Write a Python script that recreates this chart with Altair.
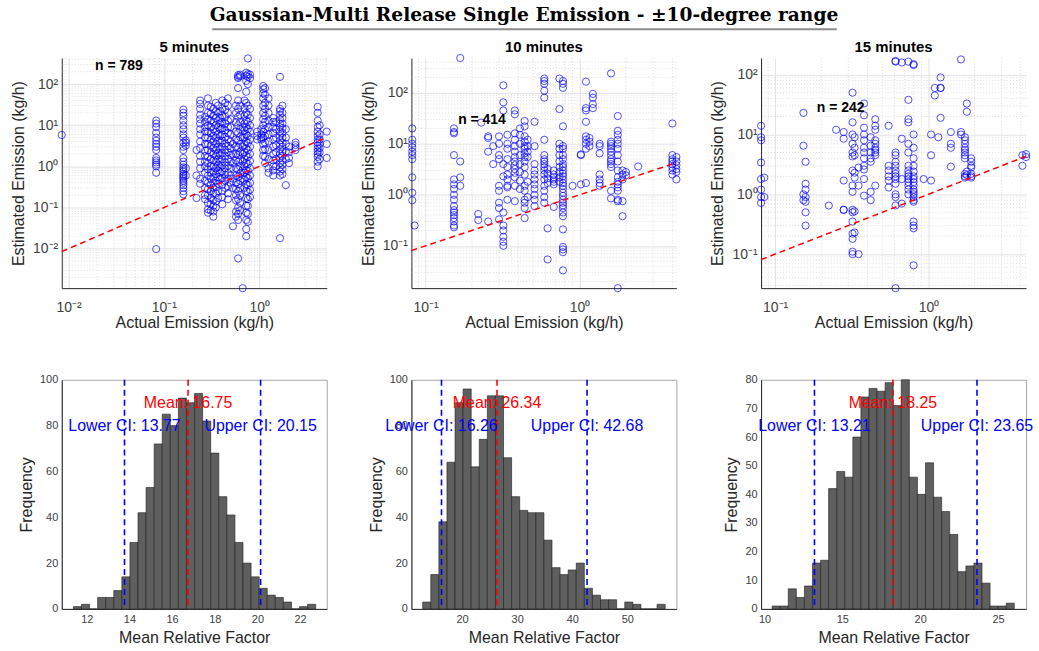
import math
import altair as alt
import pandas as pd

FONT = "Liberation Sans"
AX = "#262626"

# ---------------- scatter data (actual kg/h -> list of estimated kg/h) ----------------
p5_cols = [
    (0.0085, [5.8]),
    (0.083, [13, 11, 9, 6.5, 5, 4.2, 3.5, 3, 2.5, 1.6, 1.4, 1.25, 1.1, 1.0, 0.7, 0.0098]),
    (0.16, [24, 20, 17, 13, 10, 8, 6, 5, 3.8, 3, 2.5, 1.6, 1.3, 1.1, 0.95, 0.85, 0.75, 0.65, 0.6, 0.55, 0.5, 0.45, 0.4, 0.35, 0.3, 0.25, 0.21]),
    (0.17, [3.2, 3.8, 4.3, 0.9, 0.6]),
    (0.22, [2.5, 0.6, 0.17]),
    (0.24, [40, 33, 25, 18, 14, 11, 8, 6, 4, 2.8, 1.8, 1.3, 0.9, 0.5, 0.38]),
    (0.27, [16, 12, 9, 7, 5, 3.5, 2.4, 1.8, 1.3, 1.0, 0.7, 0.45, 0.3, 0.2, 0.16]),
    (0.29, [45, 30, 20, 14, 10, 7, 5, 3.5, 2.5, 1.7, 1.2, 0.85, 0.6, 0.4, 0.28, 0.2, 0.13, 0.09, 0.075]),
    (0.31, [28, 19, 13, 9, 6.5, 4.5, 3.2, 2.2, 1.5, 1.0, 0.7, 0.5, 0.35, 0.25, 0.17, 0.12, 0.085]),
    (0.33, [25, 17, 12, 8, 5.5, 4, 2.8, 2, 1.4, 1.0, 0.75, 0.55, 0.4, 0.3, 0.22, 0.15, 0.11, 0.08, 0.06]),
    (0.35, [35, 22, 15, 10, 7, 5, 3.5, 2.5, 1.8, 1.3, 0.9, 0.65, 0.45, 0.32, 0.22, 0.14, 0.1]),
    (0.37, [30, 20, 13, 9, 6, 4.2, 3, 2.1, 1.5, 1.1, 0.8, 0.55, 0.38, 0.25, 0.17]),
    (0.39, [22, 15, 11, 8, 5.5, 3.8, 2.6, 1.9, 1.3, 0.95, 0.7, 0.5]),
    (0.41, [40, 26, 17, 12, 8.5, 6, 4.2, 3, 2.1, 1.5, 1.05, 0.75, 0.52, 0.36, 0.25, 0.18, 0.12]),
    (0.44, [35, 24, 16, 11, 7.5, 5.2, 3.6, 2.5, 1.8, 1.25, 0.9, 0.62, 0.45, 0.3]),
    (0.47, [45, 30, 20, 13, 9, 6.5, 4.5, 3.1, 2.2, 1.5, 1.05, 0.7, 0.5, 0.33, 0.22, 0.16]),
    (0.50, [14, 9, 6, 4, 2.7, 1.9, 1.3, 0.9, 0.6, 0.4]),
    (0.53, [3.5, 2, 1.2, 0.5, 0.3, 0.035]),
    (0.57, [30, 20, 12, 7, 4.5, 3, 2, 1.4, 0.9, 0.6, 0.4, 0.28, 0.2, 0.15, 0.08, 0.06]),
    (0.60, [165, 150, 140, 80, 40, 25, 16, 10, 6.5, 4.3, 2.9, 1.9, 1.3, 0.85, 0.56, 0.37, 0.25, 0.16, 0.1, 0.07, 0.05, 0.0058]),
    (0.63, [170, 155, 30, 18, 12, 8, 5.2, 3.5, 2.3, 1.5, 1.0, 0.68, 0.45, 0.3, 0.2, 0.13, 0.085]),
    (0.67, [0.0011, 9, 5, 3, 2, 1.3, 0.8, 0.5]),
    (0.70, [40, 26, 17, 11, 7.5, 5, 3.3, 2.2, 1.5, 1.0, 0.7, 0.47, 0.3]),
    (0.73, [190, 160, 120, 65, 35, 20, 13, 9, 6, 4, 2.7, 1.8, 1.2, 0.8, 0.55, 0.37, 0.25, 0.17, 0.11, 0.075, 0.05, 0.03, 0.02]),
    (0.76, [420, 175, 150, 100, 30, 18, 12, 8, 5.5, 3.7, 2.5, 1.7, 1.15, 0.78, 0.52, 0.35, 0.24, 0.16, 0.11, 0.07, 0.045]),
    (0.80, [170, 140, 25, 15, 10, 7, 4.5, 3, 2, 1.35, 0.9, 0.6, 0.4, 0.27, 0.18]),
    (0.95, [7, 5.5, 4.5]),
    (1.05, [8, 6, 5, 4.5]),
    (1.10, [90, 75, 60, 45, 30, 20, 14, 10, 7, 5, 3.5, 2.5, 1.8]),
    (1.15, [80, 55, 35, 25, 17, 12, 8, 5.5, 3.8, 2.6, 1.7, 1.2]),
    (1.25, [45, 30, 20, 13, 9, 6, 4, 2.5, 1.5, 0.9, 0.7]),
    (1.40, [15, 12, 9, 6.5, 4.5, 3, 2, 1.4, 1.0, 0.8, 0.6]),
    (1.50, [12, 8, 5, 3.3, 2.2, 1.5, 1.0]),
    (1.65, [150, 25, 22, 18, 14, 11, 9, 7, 5.5, 4.3, 3.4, 2.6, 2, 1.6, 1.2, 0.95, 0.75, 0.6, 0.018]),
    (1.75, [30, 20, 15, 11, 8.5, 6.5, 5, 3.8, 3, 2.3, 1.8, 1.4, 1.1, 0.85, 0.65]),
    (1.90, [8, 5, 3.5, 2.3, 1.5, 0.35]),
    (2.05, [3, 2.2, 1.6, 1.2]),
    (2.40, [3.8, 3.3, 2.9, 2.5]),
    (4.10, [28, 20, 13, 9, 7, 5.5, 4.5, 3.8, 3.2, 2.7, 2.3, 2, 1.7, 1.3, 1.0]),
    (4.30, [10, 6, 4.5, 3.5, 2.8, 2.2, 1.5]),
    (5.10, [7, 3.5, 1.6]),
]

p10_cols = [
    (0.082, [20, 12, 10, 8.5, 7, 6, 5, 2.2, 1.1, 0.78]),
    (0.085, [0.25]),
    (0.153, [20, 17, 16, 6, 2, 1.6, 1.3, 1.0, 0.8, 0.6, 0.5, 0.45, 0.4, 0.35, 0.3, 0.25, 0.23]),
    (0.168, [480, 4.5, 2.2, 1.5]),
    (0.22, [0.42, 0.32]),
    (0.23, [26]),
    (0.255, [14, 13, 7, 0.3]),
    (0.275, [9, 4]),
    (0.30, [14, 10, 6, 5, 1.5, 1.2, 0.7, 0.55, 0.33]),
    (0.32, [140, 65, 45, 4, 2.3, 0.45, 0.25, 0.2, 0.15, 0.12, 0.1]),
    (0.34, [15, 10, 8, 5, 3.5, 2.5, 2, 1.5, 1.4, 0.8]),
    (0.38, [45, 38, 16, 12, 9, 7, 5.5, 4.5, 3.8, 3.2, 2.7, 2.2, 1.5, 0.75]),
    (0.41, [20, 15, 10, 6, 4, 2.8, 1.9, 1.3]),
    (0.44, [28, 22, 14, 11, 9, 8, 6.5, 5.5, 4.5, 3.5, 2.5, 1.5, 1.2, 0.8, 0.7, 0.55, 0.35]),
    (0.46, [12, 9, 7, 5.5, 1.8, 0.9]),
    (0.51, [27, 9, 4, 3, 2.5, 2, 1.6, 1.3, 1.0, 0.8, 0.6]),
    (0.59, [190, 170, 150, 110, 80, 12, 6, 5, 4.5, 4, 3.5, 3, 2.5, 2, 1.5, 1.2, 0.9, 0.7]),
    (0.62, [0.22, 0.054, 3.2, 2.6, 2.1, 1.7]),
    (0.68, [3, 2.5, 2.2, 2, 1.8, 1.6, 0.58]),
    (0.74, [190, 48, 10, 8, 6, 4.5, 3.5, 2.8, 2.2, 1.8]),
    (0.78, [170, 150, 125, 22, 9, 8, 6, 5, 4, 3.5, 3, 2.6, 2.3, 2, 1.7, 1.5, 1.3, 1.1, 0.95, 0.8, 0.7, 0.62, 0.55, 0.45, 0.38, 0.21, 0.095, 0.085, 0.075, 0.033]),
    (0.90, [1.5]),
    (1.02, [1.6, 6, 6.2]),
    (1.10, [165, 50, 45, 27, 14, 12, 10, 8, 1.7]),
    (1.16, [13, 11, 9]),
    (1.22, [95, 80, 60, 50]),
    (1.35, [10, 9, 6.5, 2.5, 2.0, 1.7, 1.5]),
    (1.60, [240, 11, 10, 9, 8, 7, 6, 5, 4.5, 4, 3.5, 1.2, 0.85]),
    (1.77, [35, 18, 15, 12, 10, 8, 6, 4.5, 3, 2.2, 1.8, 1.6, 1.4, 1.2, 0.8, 0.75, 0.0148]),
    (1.90, [3, 2.5, 2, 0.75, 0.38]),
    (2.00, [2.8, 2.4]),
    (2.40, [3.6]),
    (4.00, [25, 6, 5, 4.5, 4, 3.5, 3, 2.5]),
    (4.25, [5.5, 4.5, 3.8, 3.2, 2.8, 2.0]),
]

p15_cols = [
    (0.081, [14, 9, 8, 3.4, 1.8, 1.2, 0.9, 0.72]),
    (0.085, [1.9, 0.9]),
    (0.153, [23, 6.5, 1.0, 0.8]),
    (0.158, [3.5, 1.5, 1.2, 0.9, 0.75, 0.5, 0.3]),
    (0.224, [0.65]),
    (0.25, [12]),
    (0.28, [11, 8.5, 0.55, 0.55, 1.7]),
    (0.32, [50, 16, 10, 7, 5, 4.3, 2.5, 1.4, 1.1, 0.55, 0.5, 0.35, 0.22, 0.18, 0.11, 0.1]),
    (0.33, [9, 6, 4.5, 2.3, 1.9, 0.52, 0.23]),
    (0.35, [0.1, 1.4, 2.8]),
    (0.38, [33, 21, 13, 10, 8, 6, 5, 4, 3, 2.6, 1.8, 0.95]),
    (0.42, [9, 6.5, 5, 4, 3.5, 1.1, 0.8]),
    (0.45, [18, 14, 12, 8, 7, 6, 5.5, 5, 4.5, 1.4]),
    (0.55, [14, 3, 2.5, 2, 1.7, 1.3]),
    (0.61, [170, 165, 5, 4.5, 3.5, 3, 2.5, 2.2, 2, 1.8, 1.5, 1.0, 0.9, 0.65, 0.027]),
    (0.67, [160, 8.5, 1.8, 0.7]),
    (0.74, [165, 38, 18, 16, 7, 5, 3, 2.5, 2.2, 2, 1.8, 1.6, 1.4, 1.2, 1.0]),
    (0.80, [150, 145, 10, 6, 4, 3, 2.4, 2, 1.8, 1.6, 1.4, 1.2, 1.1, 1.0, 0.9, 0.8, 0.75, 0.35, 0.3, 0.27, 0.065]),
    (0.93, [1.8]),
    (1.04, [10, 4.5, 1.7]),
    (1.10, [60, 45]),
    (1.16, [9]),
    (1.20, [90, 60, 60, 19]),
    (1.40, [11, 6, 7, 2.9]),
    (1.63, [180, 11, 10]),
    (1.73, [9, 8, 7, 6, 5.5, 5, 4.5, 4, 2.2, 2, 1.9]),
    (1.78, [33, 24, 2.4, 2.1]),
    (1.90, [4, 3.5, 3, 2.8, 2.2, 2, 1.9]),
    (4.10, [4.5, 3.0]),
    (4.33, [4.7, 4.2]),
]

# ---------------- histogram data ----------------
h5_counts = [1, 2, 0, 5, 5, 8, 14, 29, 42, 53, 72, 85, 80, 92, 90, 94, 82, 68, 49, 41, 29, 20, 14, 9, 6, 5, 3, 0, 1, 2]
h5_start, h5_width = 11.375, 0.3786
h5_stats = (16.75, 13.77, 20.15)

h10_counts = [3, 15, 38, 64, 90, 96, 62, 74, 93, 93, 66, 49, 43, 42, 42, 30, 18, 15, 17, 20, 9, 6, 4, 4, 0, 3, 2, 0, 0, 2]
h10_start, h10_width = 12.85, 1.467
h10_stats = (26.34, 16.26, 42.68)

h15_counts = [1, 1, 7, 4, 8, 16, 17, 42, 48, 46, 60, 74, 77, 76, 79, 71, 80, 46, 40, 51, 39, 34, 26, 13, 15, 16, 9, 1, 1, 2]
h15_start, h15_width = 10.49, 0.5185
h15_stats = (18.25, 13.21, 23.65)

TITLE = "Gaussian-Multi Release Single Emission - \u00b110-degree range"
PANEL_TITLES = ["5 minutes", "10 minutes", "15 minutes"]

W, H_TOP, H_BOT = 266, 231, 230

LOGLABEL = ("datum.value < 0.05 ? '10\u207b\u00b2' : datum.value < 0.5 ? '10\u207b\u00b9' : "
            "datum.value < 5 ? '10\u2070' : datum.value < 50 ? '10\u00b9' : '10\u00b2'")


def cols_to_df(cols):
    return pd.DataFrame([{"actual": x, "estimated": y} for x, ys in cols for y in ys])


def minor_values(dom):
    lo, hi = dom
    out = []
    for e in range(math.floor(math.log10(lo)), math.ceil(math.log10(hi)) + 1):
        for k in range(2, 10):
            v = k * 10 ** e
            if lo <= v <= hi:
                out.append(v)
    return out


def scatter_panel(cols, xdom, ydom, xticks, yticks, n_text, n_pos, title, extra=None):
    df = cols_to_df(cols)
    xs = alt.Scale(type="log", domain=list(xdom), nice=False)
    ys = alt.Scale(type="log", domain=list(ydom), nice=False)
    xa = alt.Axis(title="Actual Emission (kg/h)", values=xticks, labelExpr=LOGLABEL,
                  grid=True, gridColor="#e3e3e3", ticks=False, labelFontSize=14,
                  labelPadding=12, titlePadding=1)
    ya = alt.Axis(title="Estimated Emission (kg/h)", values=yticks, labelExpr=LOGLABEL,
                  grid=True, gridColor="#e3e3e3", ticks=False, labelFontSize=14,
                  labelPadding=4, titlePadding=6)
    grid_style = dict(color="#d4d4d4", strokeDash=[1, 2], strokeWidth=0.8)
    gx = alt.Chart(pd.DataFrame({"v": minor_values(xdom)})).mark_rule(**grid_style).encode(
        x=alt.X("v:Q", scale=xs, axis=xa))
    gy = alt.Chart(pd.DataFrame({"v": minor_values(ydom)})).mark_rule(**grid_style).encode(
        y=alt.Y("v:Q", scale=ys, axis=ya))
    pts = alt.Chart(df).mark_point(shape="circle", filled=False, color="#0000ff", size=52,
                                   strokeWidth=0.8, opacity=0.85).encode(
        x=alt.X("actual:Q", scale=xs, axis=xa),
        y=alt.Y("estimated:Q", scale=ys, axis=ya),
    )
    line = alt.Chart(pd.DataFrame({"a": list(xdom), "b": list(xdom)})).mark_line(
        color="#ff0000", strokeDash=[6, 4], strokeWidth=1.5).encode(
        x=alt.X("a:Q", scale=xs, axis=xa), y=alt.Y("b:Q", scale=ys, axis=ya))
    txt = alt.Chart(pd.DataFrame({"x": [n_pos[0]], "y": [n_pos[1]], "t": [n_text]})).mark_text(
        font=FONT, fontSize=14, fontWeight="bold", align="left", baseline="middle", color="#000").encode(
        x=alt.X("x:Q", scale=xs, axis=xa), y=alt.Y("y:Q", scale=ys, axis=ya), text="t:N")
    ttl = alt.Chart(pd.DataFrame({"t": [title]})).mark_text(
        font=FONT, fontSize=15, fontWeight="bold", align="center", baseline="middle", color="#000").encode(
        x=alt.value(W / 2), y=alt.value(-11), text="t:N")
    layers = [gx, gy, pts, line, txt, ttl]
    if extra:
        layers += extra
    return alt.layer(*layers).properties(width=W, height=H_TOP)


def hist_panel(start, width, counts, stats, xdom, ymax, xticks, yticks):
    mean, lo, hi = stats
    edges = [start + i * width for i in range(len(counts) + 1)]
    df = pd.DataFrame({"b0": edges[:-1], "b1": edges[1:], "count": counts})
    xs = alt.Scale(domain=list(xdom), nice=False, zero=False)
    ys = alt.Scale(domain=[0, ymax], nice=False)
    xa = alt.Axis(title="Mean Relative Factor", values=xticks, grid=False, ticks=False,
                  labelFontSize=11, labelPadding=5, titlePadding=5)
    ya = alt.Axis(title="Frequency", values=yticks, grid=False, ticks=False,
                  labelFontSize=11, labelPadding=4, titlePadding=5)
    bars = alt.Chart(df).mark_rect(fill="#5f5f5f", stroke="#1e1e1e", strokeWidth=0.6).encode(
        x=alt.X("b0:Q", scale=xs, axis=xa),
        x2="b1:Q",
        y=alt.Y("count:Q", scale=ys, axis=ya),
        y2=alt.datum(0),
    )
    ci = alt.Chart(pd.DataFrame({"v": [lo, hi]})).mark_rule(
        color="#0000ff", strokeDash=[6, 4], strokeWidth=1.6).encode(x=alt.X("v:Q", scale=xs, axis=xa))
    mn = alt.Chart(pd.DataFrame({"v": [mean]})).mark_rule(
        color="#ff0000", strokeDash=[6, 4], strokeWidth=1.6).encode(x=alt.X("v:Q", scale=xs, axis=xa))
    lab = pd.DataFrame({
        "x": [mean, lo, hi],
        "y": [0.9 * ymax, 0.8 * ymax, 0.8 * ymax],
        "t": [f"Mean: {mean:.2f}", f"Lower CI: {lo:.2f}", f"Upper CI: {hi:.2f}"],
        "c": ["#ff0000", "#0000ff", "#0000ff"],
    })
    txt = alt.Chart(lab).mark_text(font=FONT, fontSize=16, align="center", baseline="middle").encode(
        x=alt.X("x:Q", scale=xs, axis=xa), y=alt.Y("y:Q", scale=ys, axis=ya), text="t:N",
        color=alt.Color("c:N", scale=None))
    return alt.layer(bars, ci, mn, txt).properties(
        width=W, height=H_BOT, view=alt.ViewBackground(stroke="#a8a8a8", strokeWidth=1))


# main title + underline drawn above the middle panel
title_txt = alt.Chart(pd.DataFrame({"t": [TITLE]})).mark_text(
    font="DejaVu Serif", fontSize=18.7, fontWeight="bold", align="center", baseline="alphabetic",
    color="#000").encode(x=alt.value(113), y=alt.value(-37), text="t:N")
title_rule = alt.Chart(pd.DataFrame({"t": [TITLE]})).mark_rule(color="#8c8c8c", strokeWidth=2).encode(
    x=alt.value(-200), x2=alt.value(427), y=alt.value(-29))

s5 = scatter_panel(p5_cols, (0.0085, 5.1), (0.0011, 430), [0.01, 0.1, 1], [0.01, 0.1, 1, 10, 100],
                   "n = 789", (0.019, 270), PANEL_TITLES[0])
s10 = scatter_panel(p10_cols, (0.081, 4.25), (0.0148, 480), [0.1, 1], [0.1, 1, 10, 100],
                    "n = 414", (0.163, 29), PANEL_TITLES[1], extra=[title_txt, title_rule])
s15 = scatter_panel(p15_cols, (0.081, 4.33), (0.027, 190), [0.1, 1], [0.1, 1, 10, 100],
                    "n = 242", (0.187, 28), PANEL_TITLES[2])

h5 = hist_panel(h5_start, h5_width, h5_counts, h5_stats, (10.83, 23.25), 100,
                [12, 14, 16, 18, 20, 22], [0, 20, 40, 60, 80, 100])
h10 = hist_panel(h10_start, h10_width, h10_counts, h10_stats, (10.8, 58.9), 100,
                 [20, 30, 40, 50], [0, 20, 40, 60, 80, 100])
h15 = hist_panel(h15_start, h15_width, h15_counts, h15_stats, (9.78, 26.8), 80,
                 [10, 15, 20, 25], [0, 10, 20, 30, 40, 50, 60, 70, 80])

chart = alt.concat(s5, s10, s15, h5, h10, h15, columns=3,
                   spacing=alt.RowColnumber(row=92, column=85), bounds="flush").properties(
    padding={"left": 10, "top": 5, "right": 5, "bottom": 2}, background="white"
).configure_view(strokeWidth=0).configure_axis(
    labelFont=FONT, titleFont=FONT, labelColor="#404040", titleColor=AX, domainColor=AX,
    titleFontSize=16, titleFontWeight="normal"
)

chart.save("out.html", embed_options={"renderer": "svg", "actions": False})
